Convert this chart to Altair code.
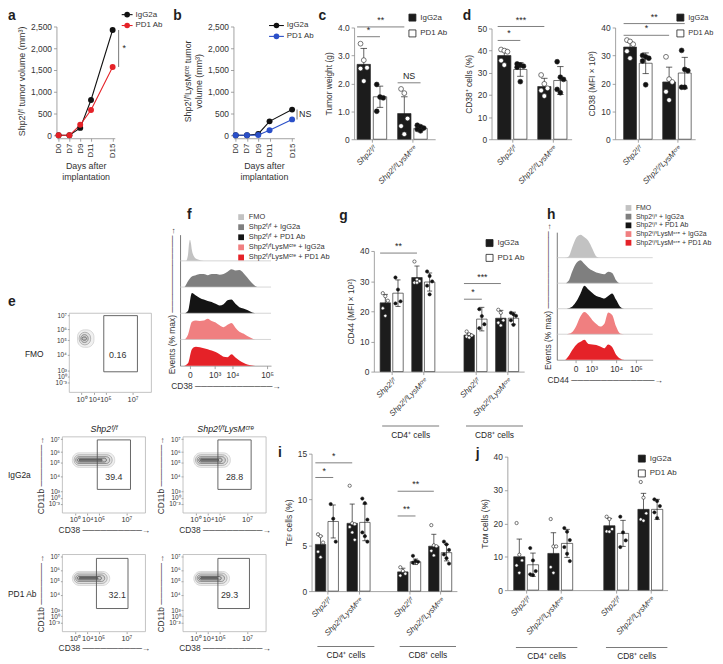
import altair as alt
import pandas as pd

W, H = 715, 656
FONT = "Liberation Sans"
INK = "#1e1e1e"
TXT = "#333333"
AXC = "#8c8c8c"


def P(v):
    return v - 8


# ------------------------------------------------------------------ data
days = ["D0", "D7", "D9", "D11", "D15"]
days_axis = ["D0", "D7", "D9", "D11", "D13", "D15"]
a_igg = [0, 0, 170, 810, 2420]
a_pd1 = [0, 0, 240, 580, 1570]
b_igg = [0, 0, 30, 320, 590]
b_pd1 = [0, 0, 5, 115, 365]

treatments = ["IgG2a", "PD1 Ab"]
genotypes = ["Shp2ᶠ/ᶠ", "Shp2ᶠ/ᶠLysMᶜʳᵉ"]
cell_types = ["CD4⁺ cells", "CD8⁺ cells"]

# c: tumour weight (g)
c_igg_mean = [2.68, 0.92]
c_igg_sd = [0.57, 0.60]
c_pd1_mean = [1.52, 0.39]
c_pd1_sd = [0.38, 0.08]
c_igg_pts = [[3.42, 2.83, 2.56, 2.53, 2.08], [1.80, 1.65, 0.74, 0.47, 0.18]]
c_pd1_pts = [[1.96, 1.51, 1.48, 1.00], [0.50, 0.45, 0.40, 0.35, 0.30]]
c_sig = [(0, 0, 1, 0, 4.02, "**"), (0, 0, 0, 1, 3.67, "*"), (1, 0, 1, 1, 2.02, "NS")]

# d: CD38+ cells (%)
d1_igg_mean = [37.8, 23.8]
d1_igg_sd = [2.8, 3.7]
d1_pd1_mean = [31.5, 26.5]
d1_pd1_sd = [3.1, 6.3]
d1_igg_pts = [[40.5, 40.0, 39.5, 35.5, 33.5], [29.0, 25.0, 23.0, 22.0, 19.5]]
d1_pd1_pts = [[34.0, 33.5, 33.0, 32.5, 26.0], [35.0, 28.0, 27.0, 22.5, 21.0]]
d1_sig = [(0, 0, 1, 0, 50.9, "***"), (0, 0, 0, 1, 44.6, "*")]

# d: CD38 MFI x 10^3
d2_igg_mean = [33.0, 20.5]
d2_igg_sd = [1.8, 5.3]
d2_pd1_mean = [27.2, 23.7]
d2_pd1_sd = [3.7, 5.6]
d2_igg_pts = [[35.5, 35.0, 34.0, 31.5, 29.0], [29.5, 21.5, 20.5, 17.0, 14.0]]
d2_pd1_pts = [[30.0, 29.5, 29.0, 28.0, 19.5], [31.8, 25.0, 24.5, 18.6, 18.6]]
d2_sig = [(0, 0, 1, 1, 41.4, "**"), (0, 0, 1, 0, 37.2, "*")]

# g: CD44 MFI x 10^2 (CD4 Shp2, CD4 LysM, CD8 Shp2, CD8 LysM)
g_igg_mean = [22.8, 31.2, 12.1, 17.7]
g_igg_sd = [2.8, 3.8, 0.5, 2.6]
g_pd1_mean = [26.0, 29.7, 17.4, 17.7]
g_pd1_sd = [4.4, 3.0, 3.9, 2.0]
g_igg_pts = [[26.0, 25.0, 23.5, 21.0, 18.5], [36.5, 30.5, 30.0, 29.5, 29.5],
             [13.3, 12.4, 12.0, 11.6, 11.3], [20.5, 19.5, 17.0, 16.2, 15.3]]
g_pd1_pts = [[31.2, 27.2, 23.3, 22.6], [33.2, 31.7, 29.9, 28.5, 25.6],
             [20.7, 18.4, 15.7, 14.4], [19.5, 19.0, 18.5, 17.0, 15.5]]
g_sig = [(0, 0, 1, 0, 39.3, "**"), (2, 0, 3, 0, 29.2, "***"), (2, 0, 2, 1, 24.0, "*")]

# i: T_EF cells (%)
i_igg_mean = [5.1, 7.4, 2.1, 4.9]
i_igg_sd = [0.9, 2.1, 0.4, 1.3]
i_pd1_mean = [7.6, 7.5, 3.2, 4.2]
i_pd1_sd = [1.8, 2.0, 0.3, 0.9]
i_igg_pts = [[6.2, 6.0, 5.3, 4.3, 3.7], [11.5, 7.4, 7.3, 7.0, 6.4, 5.6],
             [2.6, 2.2, 1.9, 1.7], [7.2, 5.0, 4.9, 4.4, 3.9]]
i_pd1_pts = [[9.5, 7.9, 5.4], [10.1, 9.6, 7.8, 6.4, 6.0, 5.4],
             [3.85, 3.3, 3.2, 3.1], [5.4, 5.1, 4.5, 4.0, 3.6, 3.0]]
i_sig = [(0, 0, 1, 0, 14.0, "*"), (0, 0, 0, 1, 12.4, "*"), (2, 0, 3, 0, 10.9, "**"), (2, 0, 2, 1, 8.2, "**")]

# j: T_CM cells (%)
j_igg_mean = [10.0, 11.0, 19.3, 24.2]
j_igg_sd = [5.3, 6.2, 2.2, 4.8]
j_pd1_mean = [7.6, 14.0, 17.0, 24.2]
j_pd1_sd = [3.5, 4.2, 3.9, 3.0]
j_igg_pts = [[20.1, 10.6, 8.9, 7.4, 5.2], [21.3, 13.1, 13.1, 6.9, 5.2],
             [22.0, 21.3, 18.3, 17.6, 17.5], [32.4, 27.7, 23.0, 21.2, 20.8]]
j_pd1_pts = [[12.6, 8.9, 5.7, 4.75, 4.5], [18.6, 17.5, 15.0, 12.9, 10.9, 8.7],
             [22.0, 17.3, 14.9, 12.9], [27.2, 26.7, 25.2, 23.3, 21.6]]

# f / h: histogram overlays (relative heights along the fluorescence axis)
hist_labels = ["FMO", "Shp2ᶠ/ᶠ + IgG2a", "Shp2ᶠ/ᶠ + PD1 Ab",
               "Shp2ᶠ/ᶠLysMᶜʳᵉ + IgG2a", "Shp2ᶠ/ᶠLysMᶜʳᵉ + PD1 Ab"]
f_fmo_x = [0, 6, 8, 9, 10, 11, 12, 14, 16, 19, 22, 26]
f_fmo_h = [0, 0, 0.25, 0.7, 0.9, 0.75, 0.45, 0.2, 0.1, 0.05, 0.02, 0]
f_x = list(range(0, 92, 4))
f_s_igg = [0, 0, 0.25, 0.45, 0.5, 0.55, 0.55, 0.5, 0.55, 0.55, 0.52, 0.55, 0.65, 0.75, 0.7, 0.72,
           0.6, 0.4, 0.2, 0.05, 0, 0, 0]
f_s_pd1 = [0, 0, 0.1, 0.86, 0.75, 0.65, 0.58, 0.52, 0.48, 0.4, 0.33, 0.38, 0.55, 0.58, 0.4, 0.26,
           0.2, 0.14, 0.05, 0, 0, 0, 0]
f_l_igg = [0, 0, 0.2, 0.75, 0.8, 0.78, 0.8, 0.88, 0.78, 0.72, 0.6, 0.52, 0.62, 0.7, 0.5, 0.33,
           0.25, 0.15, 0.06, 0, 0, 0, 0]
f_l_pd1 = [0, 0, 0.1, 0.7, 0.8, 0.78, 0.74, 0.7, 0.64, 0.58, 0.48, 0.38, 0.36, 0.48, 0.35, 0.22,
           0.12, 0.05, 0.02, 0, 0, 0, 0]

h_x = list(range(0, 72, 4))
h_fmo = [0, 0, 0, 0.05, 0.45, 0.8, 0.9, 0.8, 0.65, 0.35, 0.05, 0, 0, 0, 0, 0, 0, 0]
h_s_igg = [0, 0, 0, 0.1, 0.5, 0.8, 0.9, 0.75, 0.6, 0.5, 0.42, 0.38, 0.35, 0.45, 0.4, 0.12, 0, 0]
h_s_pd1 = [0, 0, 0, 0.02, 0.1, 0.3, 0.6, 0.9, 0.75, 0.62, 0.5, 0.45, 0.4, 0.5, 0.6, 0.35, 0.08, 0]
h_l_igg = [0, 0, 0, 0.02, 0.1, 0.35, 0.7, 0.87, 0.75, 0.55, 0.4, 0.3, 0.4, 0.85, 0.75, 0.3, 0.03, 0]
h_l_pd1 = [0, 0, 0, 0.15, 0.4, 0.6, 0.7, 0.78, 0.62, 0.6, 0.58, 0.52, 0.45, 0.6, 0.5, 0.2, 0.05, 0]

# e: flow plots (contour extents and gates, in display units 0-100)
flow_x_ticks = [15, 30, 44, 77]
flow_x_labels = ["10⁰", "10⁴", "10⁵", "10⁷"]
flow_y_ticks = [97, 80, 66, 48, 28, 20, 12]
flow_y_labels = ["10⁷", "10⁶", "10⁵", "10⁴", "10³", "10⁰", "10⁻³"]
fmo_rings = [(10, 30, 57, 79), (12, 26, 60, 76), (14, 23, 63, 73), (15.5, 21, 66, 70)]
p1_rings = [(12, 63, 60, 79), (14, 60, 62.5, 76.5), (16, 57, 65, 74), (18, 53, 67, 72), (20, 48, 68.5, 70.5)]
p2_rings = [(13, 57, 60, 79), (15, 54, 62.5, 76.5), (17, 51, 65, 74), (19, 47, 67, 72), (21, 43, 68.5, 70.5)]
p3_rings = [(12, 57, 60, 78), (14, 54, 62.5, 76), (16, 51, 65, 73.5), (18, 47, 67, 71.5), (20, 43, 68.5, 70)]
p4_rings = [(13, 56, 60, 78), (15, 53, 62.5, 76), (17, 50, 65, 73.5), (19, 46, 67, 71.5), (21, 42, 68.5, 70)]
gates = [(42, 83, 26, 97), (42, 82, 31, 96), (42, 82, 31, 96), (41, 79, 30, 95), (42, 80, 30, 95)]
gate_pct = ["0.16", "39.4", "28.8", "32.1", "29.3"]
gate_txt = [(59, 47), (62, 47), (62, 47), (66, 47), (56, 47)]

# ------------------------------------------------------------------ helpers
OFF, HW, CAP = 0.2, 0.165, 0.08
RING_COLORS = ["#cfcfcf", "#a5a5a5", "#7c7c7c", "#555555", "#303030"]
HIST_COLORS = ["#c2c2c2", "#7f7f7f", "#141414", "#f07f80", "#e52228"]


def label_expr(values, labels):
    expr = "''"
    for v, l in reversed(list(zip(values, labels))):
        expr = f"datum.value == {v} ? '{l}' : ({expr})"
    return expr


def text_at(txt, x, y, size=8.5, weight="normal", align="left", style="normal", baseline="alphabetic"):
    df = pd.DataFrame({"t": [txt]})
    return alt.Chart(df).mark_text(
        align=align, baseline=baseline, fontSize=size, fontWeight=weight, fontStyle=style, color=INK
    ).encode(x=alt.value(max(P(x), 0)), y=alt.value(P(y)), text="t:N")


def growth_panel(igg, pd1, col, x0, x1, ytitle, sig, rule_dx, text_dx):
    df = pd.DataFrame({"day": days + days, "idx": list(range(5)) * 2, "vol": igg + pd1,
                       "trt": ["IgG2a"] * 5 + ["PD1 Ab"] * 5})
    xs = alt.Scale(type="point", domain=days_axis, range=[P(x0), P(x1)], padding=0.2)
    ys = alt.Scale(domain=[0, 2500], range=[P(133), P(23)], nice=False, zero=False)
    cs = alt.Scale(domain=treatments, range=["#111111", col])
    xax = alt.Axis(orient="bottom", offset=P(136) - H, values=days, labelAngle=270,
                   title=["Days after", "implantation"], titleFontSize=9, labelFontSize=8)
    yax = alt.Axis(orient="left", offset=-P(x0), values=[0, 500, 1000, 1500, 2000, 2500],
                   labelExpr="format(datum.value, ',')", title=ytitle, titleFontSize=9,
                   labelFontSize=8.5)
    line = alt.Chart(df).mark_line(strokeWidth=1.1).encode(
        x=alt.X("day:O", scale=xs, axis=xax), y=alt.Y("vol:Q", scale=ys, axis=yax),
        color=alt.Color("trt:N", scale=cs, legend=None), order="idx:Q")
    pts = alt.Chart(df).mark_circle(size=36, opacity=1).encode(
        x=alt.X("day:O", scale=xs), y=alt.Y("vol:Q", scale=ys),
        color=alt.Color("trt:N", scale=cs, legend=None))
    sdf = pd.DataFrame({"day": ["D15"], "hi": [igg[-1]], "lo": [pd1[-1]],
                        "mid": [(igg[-1] + pd1[-1]) / 2], "lab": [sig]})
    rule = alt.Chart(sdf).mark_rule(color="#8a8a8a", strokeWidth=1.2, xOffset=rule_dx).encode(
        x=alt.X("day:O", scale=xs), y=alt.Y("hi:Q", scale=ys), y2="lo:Q")
    txt = alt.Chart(sdf).mark_text(align="left", baseline="middle", xOffset=text_dx, fontSize=9,
                                   color=INK).encode(
        x=alt.X("day:O", scale=xs), y=alt.Y("mid:Q", scale=ys), text="lab:N")
    return alt.layer(line, pts, rule, txt)


def line_legend(colors, lx0, lx1, dot_x, text_x, y0, y1):
    df = pd.DataFrame({"trt": treatments})
    ys = alt.Scale(type="point", domain=treatments, range=[P(y0), P(y1)], padding=0)
    cs = alt.Scale(domain=treatments, range=colors)
    Y = alt.Y("trt:N", scale=ys, axis=None)
    rule = alt.Chart(df).mark_rule(strokeWidth=1.1).encode(
        x=alt.value(P(lx0)), x2=alt.value(P(lx1)), y=Y, color=alt.Color("trt:N", scale=cs, legend=None))
    dot = alt.Chart(df).mark_circle(size=32, opacity=1).encode(
        x=alt.value(P(dot_x)), y=Y, color=alt.Color("trt:N", scale=cs, legend=None))
    txt = alt.Chart(df).mark_text(align="left", baseline="middle", fontSize=8, color=TXT).encode(
        x=alt.value(P(text_x)), y=Y, text="trt:N")
    return alt.layer(rule, dot, txt)


def bar_panel(cfg, igg_mean, igg_sd, pd1_mean, pd1_sd, igg_pts, pd1_pts, sig, groups, brackets=None):
    gpos = cfg["gpos"]
    dom = [(cfg["ax"] - cfg["c0"]) / cfg["unit"], (cfg["xend"] - cfg["c0"]) / cfg["unit"]]
    xs = alt.Scale(domain=dom, range=[P(cfg["ax"]), P(cfg["xend"])], nice=False, zero=False)
    ys = alt.Scale(domain=[0, cfg["ymax"]], range=[P(cfg["ybot"]), P(cfg["ytop"])], nice=False, zero=False)

    def bpos(g, t):
        return gpos[g] + (OFF if t else -OFF)

    bars, pts = [], []
    for g in range(len(gpos)):
        for t, (m, s, plist) in enumerate([(igg_mean[g], igg_sd[g], igg_pts[g]),
                                           (pd1_mean[g], pd1_sd[g], pd1_pts[g])]):
            pos = bpos(g, t)
            bars.append(dict(trt=treatments[t], pos=pos, x1=pos - HW, x2=pos + HW, mean=m, zero=0,
                             lo=m - s, hi=m + s, c1=pos - CAP, c2=pos + CAP))
            for k, v in enumerate(plist):
                jit = ((k % 3) - 1) * 0.08
                pts.append(dict(px=pos + jit, val=v, pf="#ffffff" if t == 0 else "#111111"))
    bdf, pdf = pd.DataFrame(bars), pd.DataFrame(pts)

    xax = alt.Axis(orient="bottom", offset=P(cfg["ybot"]) - H, values=gpos,
                   labelExpr=label_expr(gpos, groups), labelAngle=315, labelFontStyle="italic",
                   title=None, labelFontSize=8)
    yax_kw = dict(orient="left", offset=-P(cfg["ax"]), values=cfg["yticks"], title=cfg["ytitle"],
                  titleFontSize=8.5, labelFontSize=8.5)
    if "ylabel" in cfg:
        yax_kw["labelExpr"] = cfg["ylabel"]
    yax = alt.Axis(**yax_kw)
    if cfg.get("legend"):
        lx, ly = cfg["legend"]
        leg = alt.Legend(orient="none", legendX=P(lx), legendY=P(ly), title=None, symbolType="square",
                         symbolSize=50, symbolStrokeColor="#333333", symbolStrokeWidth=0.8,
                         labelFontSize=cfg.get("legend_fs", 8), rowPadding=cfg.get("legend_pad", 4),
                         labelColor=TXT)
    else:
        leg = None
    fs = alt.Scale(domain=treatments, range=["#1c1c1c", "#ffffff"])

    def X(f):
        return alt.X(f, scale=xs)

    def Y(f):
        return alt.Y(f, scale=ys)

    bar = alt.Chart(bdf).mark_bar(stroke="#333333", strokeWidth=0.7).encode(
        x=alt.X("x1:Q", scale=xs, axis=xax), x2="x2:Q", y=alt.Y("mean:Q", scale=ys, axis=yax),
        y2="zero:Q", fill=alt.Fill("trt:N", scale=fs, legend=leg))
    err = alt.Chart(bdf).mark_rule(color=INK, strokeWidth=0.7).encode(x=X("pos:Q"), y=Y("lo:Q"), y2="hi:Q")
    cap_hi = alt.Chart(bdf).mark_rule(color=INK, strokeWidth=0.7).encode(x=X("c1:Q"), x2="c2:Q", y=Y("hi:Q"))
    cap_lo = alt.Chart(bdf).mark_rule(color=INK, strokeWidth=0.7).encode(x=X("c1:Q"), x2="c2:Q", y=Y("lo:Q"))
    dots = alt.Chart(pdf).mark_circle(size=cfg["psize"], opacity=1, stroke=INK, strokeWidth=0.6).encode(
        x=X("px:Q"), y=Y("val:Q"), fill=alt.Fill("pf:N", scale=None))
    layers = [bar, err, cap_hi, cap_lo, dots]

    if sig:
        srows = []
        for ga, ta, gb, tb, yv, lab in sig:
            x1 = bpos(ga, ta) - HW
            x2 = bpos(gb, tb)
            srows.append(dict(s1=x1, s2=x2, sm=(x1 + x2) / 2, sy=yv, lab=lab))
        sdf = pd.DataFrame(srows)
        layers.append(alt.Chart(sdf).mark_rule(color="#707070", strokeWidth=0.9).encode(
            x=X("s1:Q"), x2="s2:Q", y=Y("sy:Q")))
        layers.append(alt.Chart(sdf).mark_text(dy=-4, fontSize=9, color=INK, baseline="alphabetic").encode(
            x=X("sm:Q"), y=Y("sy:Q"), text="lab:N"))
    if brackets:
        ly, ty = brackets
        brows = []
        for k, lab in enumerate(cell_types):
            b1 = gpos[2 * k] - 0.3
            b2 = gpos[2 * k + 1] + 0.5
            brows.append(dict(b1=b1, b2=b2, bm=(b1 + b2) / 2, lab=lab))
        bdf2 = pd.DataFrame(brows)
        layers.append(alt.Chart(bdf2).mark_rule(color="#7a7a7a", strokeWidth=1.1).encode(
            x=X("b1:Q"), x2="b2:Q", y=alt.value(P(ly))))
        layers.append(alt.Chart(bdf2).mark_text(fontSize=8.5, color=INK, baseline="middle").encode(
            x=X("bm:Q"), y=alt.value(P(ty)), text="lab:N"))
    return alt.layer(*layers)


def ridge_panel(ridges, cfg):
    rows = []
    for r, (xv, hv) in enumerate(ridges):
        base = 4 - r
        for x, h in zip(xv, hv):
            rows.append({"lab": hist_labels[r], "x": x, "top": base + h * cfg["hmul"], "base": base})
    df = pd.DataFrame(rows)
    xs = alt.Scale(domain=[0, cfg["xmax"]], range=[P(cfg["x0"]), P(cfg["x1"])], nice=False, zero=False)
    ys = alt.Scale(domain=[0, 5], range=[P(cfg["ybase"]), P(cfg["ybase"] - 5 * cfg["row"])],
                   nice=False, zero=False)
    xax = alt.Axis(orient="bottom", offset=P(cfg["ybase"]) - H, values=cfg["xticks"],
                   labelExpr=label_expr(cfg["xticks"], ["0", "10³", "10⁴", "10⁵"]),
                   title=cfg["xtitle"], titleFontSize=8.5, labelFontSize=8.5, titlePadding=3)
    yax = alt.Axis(orient="left", offset=-P(cfg["x0"]), labels=False, ticks=False,
                   title="Events (% max) ─────────────→", titleFontSize=8.5, titlePadding=4,
                   domainColor="#555555")
    fs = alt.Scale(domain=hist_labels, range=HIST_COLORS)
    lx, ly = cfg["legend"]
    leg = alt.Legend(orient="none", legendX=P(lx), legendY=P(ly), title=None, symbolType="square",
                     symbolSize=34, symbolStrokeWidth=0, labelFontSize=cfg.get("lfs", 7.5),
                     rowPadding=cfg["lpad"], labelColor=TXT)
    area = alt.Chart(df).mark_area(interpolate="monotone").encode(
        x=alt.X("x:Q", scale=xs, axis=xax), y=alt.Y("top:Q", scale=ys, axis=yax, stack=None),
        y2="base:Q", fill=alt.Fill("lab:N", scale=fs, legend=leg))
    sep_df = pd.DataFrame({"base": [4, 3, 2, 1], "xa": [0] * 4, "xb": [cfg["xmax"]] * 4})
    sep = alt.Chart(sep_df).mark_rule(color="#c4c4c4", strokeWidth=0.7).encode(
        x=alt.X("xa:Q", scale=xs), x2="xb:Q", y=alt.Y("base:Q", scale=ys))
    return alt.layer(area, sep)


def flow_plot(frame, rings, k, titles):
    fx0, fx1, fy0, fy1 = frame
    xs = alt.Scale(domain=[0, 100], range=[P(fx0), P(fx1)], nice=False, zero=False)
    ys = alt.Scale(domain=[0, 100], range=[P(fy1), P(fy0)], nice=False, zero=False)
    xkw = dict(orient="bottom", offset=P(fy1) - H, values=flow_x_ticks,
               labelExpr=label_expr(flow_x_ticks, flow_x_labels), domain=False, tickSize=2,
               labelFontSize=7.5, labelPadding=1)
    ykw = dict(orient="left", offset=-P(fx0), values=flow_y_ticks,
               labelExpr=label_expr(flow_y_ticks, flow_y_labels), domain=False, tickSize=2,
               labelFontSize=6.5, labelPadding=1)
    if titles:
        xkw.update(title="CD38 ──────────→", titleFontSize=8.5, titlePadding=2)
        ykw.update(title="CD11b ───────→", titleFontSize=8.5, titlePadding=3)
    else:
        xkw.update(title=None)
        ykw.update(title=None)
    fdf = pd.DataFrame({"l": [0], "r": [100], "b": [0], "t": [100]})
    frame_c = alt.Chart(fdf).mark_rect(fillOpacity=0, stroke="#b4b4b4", strokeWidth=0.8).encode(
        x=alt.X("l:Q", scale=xs, axis=alt.Axis(**xkw)), x2="r:Q",
        y=alt.Y("b:Q", scale=ys, axis=alt.Axis(**ykw)), y2="t:Q")
    rdf = pd.DataFrame(rings, columns=["x1", "x2", "y1", "y2"])
    rdf["col"] = RING_COLORS[:len(rdf)]
    ring_c = alt.Chart(rdf).mark_rect(fill="#000000", fillOpacity=0.06, strokeWidth=0.8, cornerRadius=7).encode(
        x=alt.X("x1:Q", scale=xs), x2="x2:Q",
        y=alt.Y("y1:Q", scale=ys), y2="y2:Q", stroke=alt.Stroke("col:N", scale=None))
    g = gates[k]
    gdf = pd.DataFrame([dict(x1=g[0], x2=g[1], y1=g[2], y2=g[3], tx=gate_txt[k][0], ty=gate_txt[k][1],
                             pct=gate_pct[k])])
    gate_c = alt.Chart(gdf).mark_rect(fillOpacity=0, stroke="#555555", strokeWidth=0.9).encode(
        x=alt.X("x1:Q", scale=xs), x2="x2:Q", y=alt.Y("y1:Q", scale=ys), y2="y2:Q")
    gtxt = alt.Chart(gdf).mark_text(fontSize=9, color=TXT, baseline="middle").encode(
        x=alt.X("tx:Q", scale=xs), y=alt.Y("ty:Q", scale=ys), text="pct:N")
    return alt.layer(frame_c, ring_c, gate_c, gtxt)


# ------------------------------------------------------------------ panels
layers = []

layers.append(growth_panel(a_igg, a_pd1, "#e52228", 57, 116, "Shp2ᶠ/ᶠ tumor volume (mm³)", "*", 6, 10))
layers.append(line_legend(["#111111", "#e52228"], 123, 134, 128.5, 137, 11, 22))
layers.append(growth_panel(b_igg, b_pd1, "#2a4fc8", 236, 297.6,
                           ["Shp2ᶠ/ᶠLysMᶜʳᵉ tumor", "volume (mm³)"], "NS", 5, 7))
layers.append(line_legend(["#111111", "#2a4fc8"], 272, 287, 279.5, 290, 22, 33))

layers.append(bar_panel(dict(ax=358, xend=440, c0=376, unit=41, gpos=[0, 1], ybot=137, ytop=24, ymax=4,
                             yticks=[0, 1, 2, 3, 4], ytitle="Tumor weight (g)",
                             ylabel="datum.value == 0 ? '0' : format(datum.value, '.1f')",
                             legend=(413, 10), psize=24),
                        c_igg_mean, c_igg_sd, c_pd1_mean, c_pd1_sd, c_igg_pts, c_pd1_pts, c_sig, genotypes))
layers.append(bar_panel(dict(ax=497, xend=578, c0=518, unit=40.5, gpos=[0, 1], ybot=137, ytop=25, ymax=50,
                             yticks=[0, 10, 20, 30, 40, 50], ytitle="CD38⁺ cells (%)", psize=24),
                        d1_igg_mean, d1_igg_sd, d1_pd1_mean, d1_pd1_sd, d1_igg_pts, d1_pd1_pts, d1_sig, genotypes))
layers.append(bar_panel(dict(ax=622, xend=703, c0=645, unit=39.5, gpos=[0, 1], ybot=137, ytop=24, ymax=40,
                             yticks=[0, 10, 20, 30, 40], ytitle="CD38 (MFI × 10³)", legend=(684, 10),
                             legend_fs=7.5, psize=24),
                        d2_igg_mean, d2_igg_sd, d2_pd1_mean, d2_pd1_sd, d2_igg_pts, d2_pd1_pts, d2_sig, genotypes))
layers.append(bar_panel(dict(ax=378, xend=530, c0=396, unit=32, gpos=[0, 1, 2.65, 3.65], ybot=372, ytop=250,
                             ymax=40, yticks=[0, 10, 20, 30, 40], ytitle="CD44 (MFI × 10²)",
                             legend=(491, 238), legend_pad=3, psize=11),
                        g_igg_mean, g_igg_sd, g_pd1_mean, g_pd1_sd, g_igg_pts, g_pd1_pts, g_sig,
                        genotypes * 2, brackets=(427, 436)))
layers.append(bar_panel(dict(ax=315, xend=462, c0=330.5, unit=32, gpos=[0, 1, 2.6, 3.58], ybot=594, ytop=455,
                             ymax=15, yticks=[0, 5, 10, 15], ytitle="Tᴇꜰ cells (%)", psize=11),
                        i_igg_mean, i_igg_sd, i_pd1_mean, i_pd1_sd, i_igg_pts, i_pd1_pts, i_sig,
                        genotypes * 2, brackets=(650, 659)))
layers.append(bar_panel(dict(ax=513, xend=675, c0=532, unit=34.5, gpos=[0, 1, 2.64, 3.64], ybot=593, ytop=458,
                             ymax=40, yticks=[0, 10, 20, 30, 40], ytitle="Tᴄᴍ cells (%)",
                             legend=(645, 456), legend_pad=3, psize=11),
                        j_igg_mean, j_igg_sd, j_pd1_mean, j_pd1_sd, j_igg_pts, j_pd1_pts, None,
                        genotypes * 2, brackets=(651, 660)))

layers.append(ridge_panel([(f_fmo_x, f_fmo_h), (f_x, f_s_igg), (f_x, f_s_pd1), (f_x, f_l_igg), (f_x, f_l_pd1)],
                          dict(x0=182, x1=274, xmax=92, ybase=366, row=26.5, hmul=0.9,
                               xticks=[10, 35, 53, 88], xtitle="CD38 ─────────────→",
                               legend=(240, 212), lpad=1.2)))
layers.append(ridge_panel([(h_x, h_fmo), (h_x, h_s_igg), (h_x, h_s_pd1), (h_x, h_l_igg), (h_x, h_l_pd1)],
                          dict(x0=563, x1=660, xmax=97, ybase=360, row=25.8, hmul=1.0,
                               xticks=[19, 35, 60, 80], xtitle="CD44 ──────────────→",
                               legend=(632, 203), lpad=0.8, lfs=7)))

layers.append(flow_plot((70, 153, 313, 393), fmo_rings, 0, False))
layers.append(flow_plot((63, 147, 438, 515), p1_rings, 1, True))
layers.append(flow_plot((185, 269, 438, 515), p2_rings, 2, True))
layers.append(flow_plot((63, 147, 557, 635), p3_rings, 3, True))
layers.append(flow_plot((185, 269, 557, 635), p4_rings, 4, True))

# panel letters and flow annotations
for letter, x, y in [("a", 2, 16), ("b", 175, 16), ("c", 322, 16), ("d", 468, 16), ("e", 3, 306),
                     ("f", 189, 218), ("g", 343, 219), ("h", 553, 218), ("i", 281, 458), ("j", 481, 459)]:
    layers.append(text_at(letter, x, y, size=14, weight="bold"))
layers.append(text_at("Shp2ᶠ/ᶠ", 105, 433, size=9, align="center", style="italic"))
layers.append(text_at("Shp2ᶠ/ᶠLysMᶜʳᵉ", 228, 433, size=9, align="center", style="italic"))
layers.append(text_at("FMO", 44, 354, size=8.5, align="right", baseline="middle"))
layers.append(text_at("IgG2a", 31, 477, size=8.5, align="right", baseline="middle"))
layers.append(text_at("PD1 Ab", 8, 597, size=8.5, align="left", baseline="middle"))

chart = alt.layer(*layers).resolve_scale(
    x="independent", y="independent", color="independent", fill="independent", stroke="independent"
).resolve_axis(x="independent", y="independent").resolve_legend(
    color="independent", fill="independent"
).properties(
    width=W, height=H, autosize=alt.AutoSizeParams(type="none"), padding=0
).configure_view(stroke=None).configure_axis(
    labelFont=FONT, titleFont=FONT, labelFontSize=8, titleFontSize=8.5, titleFontWeight="normal",
    labelColor=TXT, titleColor=TXT, domainColor=AXC, tickColor=AXC, domainWidth=0.8, tickWidth=0.8,
    tickSize=3, grid=False, labelFlush=False, labelOverlap=False, labelPadding=2, titlePadding=4
).configure_legend(labelFont=FONT, labelColor=TXT).configure_text(font=FONT)

chart.save("out.html", embed_options={"renderer": "svg", "actions": False})
